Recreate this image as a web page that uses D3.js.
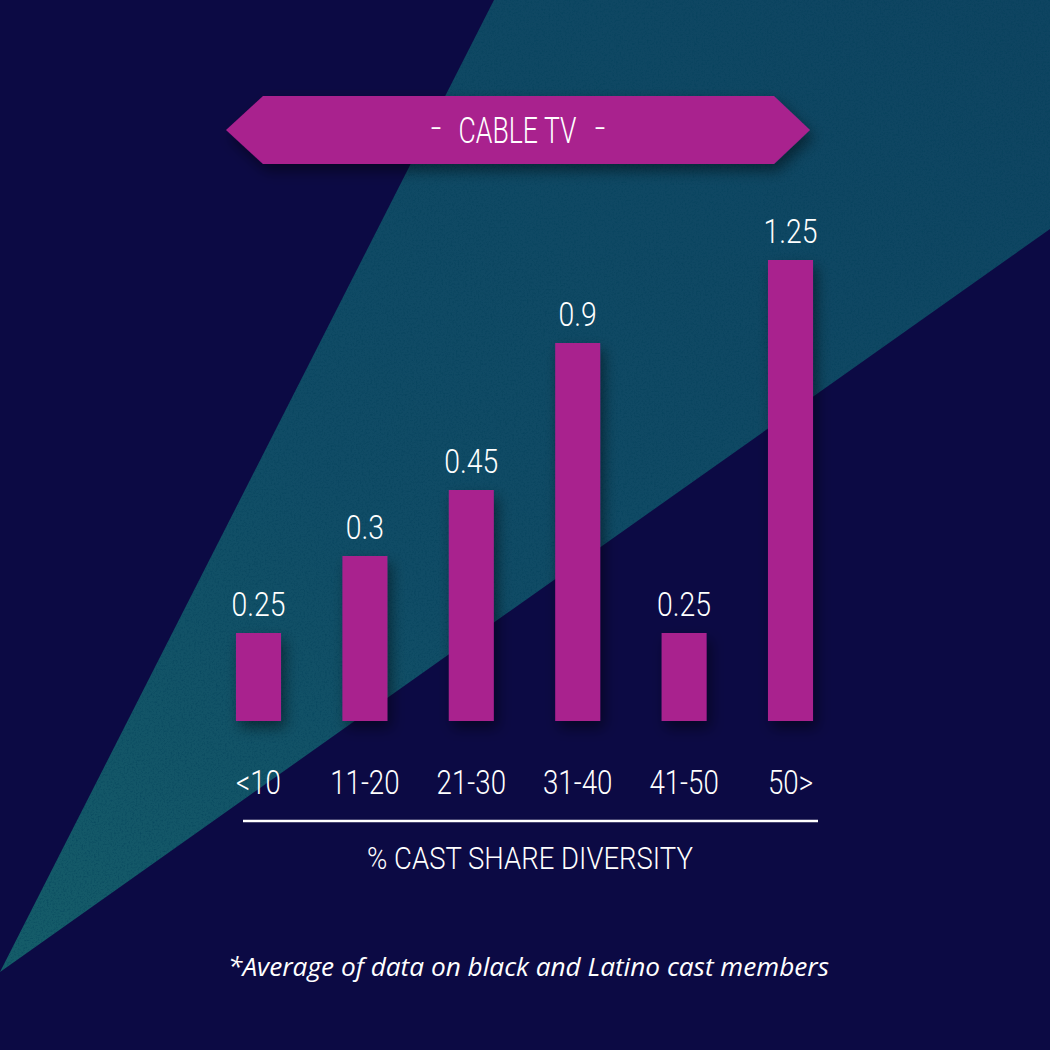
<!DOCTYPE html>
<html>
<head>
<meta charset="utf-8">
<script src="https://cdn.jsdelivr.net/npm/d3@7"></script>
<style>
  html, body { margin: 0; padding: 0; background: #0c0a44; }
  svg { display: block; }
</style>
</head>
<body>
<script>
// ---- data ----
const categories = ["<10", "11-20", "21-30", "31-40", "41-50", "50>"];
const values = [0.25, 0.3, 0.45, 0.9, 0.25, 1.25];
const valueLabels = ["0.25", "0.3", "0.45", "0.9", "0.25", "1.25"];
const title = "CABLE TV";
const axisTitle = "% CAST SHARE DIVERSITY";
const footnote = "*Average of data on black and Latino cast members";

// ---- layout ----
const W = 1050, H = 1050;
const svg = d3.select("body").append("svg").attr("width", W).attr("height", H);
const defs = svg.append("defs");

const grad = defs.append("linearGradient").attr("id", "tealGrad")
  .attr("gradientUnits", "userSpaceOnUse")
  .attr("x1", 1050).attr("y1", 0).attr("x2", 0).attr("y2", 972);
grad.append("stop").attr("offset", 0).attr("stop-color", "#0e4461");
grad.append("stop").attr("offset", 0.6).attr("stop-color", "#104c66");
grad.append("stop").attr("offset", 1).attr("stop-color", "#155d69");

const shadow = defs.append("filter").attr("id", "shadow")
  .attr("x", "-30%").attr("y", "-30%").attr("width", "160%").attr("height", "160%");
shadow.append("feDropShadow").attr("dx", 4).attr("dy", 7).attr("stdDeviation", 7)
  .attr("flood-color", "#000").attr("flood-opacity", 0.45);

const noise = defs.append("filter").attr("id", "noise")
  .attr("x", 0).attr("y", 0).attr("width", "100%").attr("height", "100%");
noise.append("feTurbulence").attr("type", "fractalNoise").attr("baseFrequency", 0.55)
  .attr("numOctaves", 3).attr("seed", 4).attr("result", "t");
noise.append("feColorMatrix").attr("in", "t").attr("type", "matrix")
  .attr("values", "0 0 0 0 0  0 0 0 0 0.05  0 0 0 0 0.1  -2.2 0 0 0 1.15");

// background
svg.append("rect").attr("width", W).attr("height", H).attr("fill", "#0c0a44");
const tealPts = [[0, 972], [494, 0], [1050, 0], [1050, 229]];
defs.append("clipPath").attr("id", "tealClip")
  .append("polygon").attr("points", tealPts.map(p => p.join(",")).join(" "));
svg.append("polygon").attr("points", tealPts.map(p => p.join(",")).join(" "))
  .attr("fill", "url(#tealGrad)");
svg.append("rect").attr("width", W).attr("height", H)
  .attr("clip-path", "url(#tealClip)").attr("filter", "url(#noise)").attr("opacity", 0.55);

const MAG = "#a9208e";

// scales
const x = d3.scaleBand().domain(categories)
  .range([205.3, 843.7]).paddingInner(0.577).paddingOuter(0.2885);
// the infographic's bars are not drawn proportionally; piecewise-linear value scale
const yDomain = [0].concat(Array.from(new Set(values)).sort((a, b) => a - b));
const y = d3.scaleLinear().domain(yDomain).range([721, 633, 556, 490, 343, 260]);

// helper to condense text horizontally by a factor
function condense(sel, k) {
  sel.each(function () {
    const t = d3.select(this);
    const tx = +t.attr("data-x"), ty = +t.attr("data-y");
    t.attr("x", 0).attr("y", 0)
      .attr("transform", `translate(${tx},${ty}) scale(${k},1)`);
  });
}
// helper to fit a single text to a target width
function fitTo(sel, tx, ty, w) {
  const nat = sel.node().getComputedTextLength();
  sel.attr("x", 0).attr("y", 0)
    .attr("transform", `translate(${tx},${ty}) scale(${w / nat},1)`);
}

// bars
const gBars = svg.append("g").attr("filter", "url(#shadow)");
gBars.selectAll("rect").data(values).join("rect")
  .attr("x", (d, i) => x(categories[i]))
  .attr("width", x.bandwidth())
  .attr("y", d => y(d))
  .attr("height", d => y(0) - y(d))
  .attr("fill", MAG);

// value labels
svg.append("g").selectAll("text").data(values).join("text")
  .attr("data-x", (d, i) => x(categories[i]) + x.bandwidth() / 2)
  .attr("data-y", d => y(d) - 17)
  .attr("text-anchor", "middle")
  .attr("font-family", "Roboto, 'Liberation Sans Narrow', sans-serif")
  .attr("font-weight", 300)
  .attr("font-size", 33)
  .attr("fill", "#ffffff")
  .text((d, i) => valueLabels[i])
  .call(condense, 0.86);

// category axis
const axisG = svg.append("g").attr("transform", "translate(0,721)")
  .call(d3.axisBottom(x).tickSize(0).tickPadding(0));
axisG.select(".domain").remove();
axisG.selectAll(".tick text")
  .attr("dy", null)
  .attr("font-family", "Roboto, 'Liberation Sans Narrow', sans-serif")
  .attr("font-weight", 300)
  .attr("font-size", 33)
  .attr("fill", "#ffffff")
  .attr("text-anchor", "middle")
  .attr("data-x", 0).attr("data-y", 72.7)
  .call(condense, 0.84);

// axis rule
svg.append("line").attr("x1", 243).attr("x2", 818).attr("y1", 821).attr("y2", 821)
  .attr("stroke", "#ffffff").attr("stroke-width", 2.5);

// axis title
svg.append("text")
  .attr("text-anchor", "middle")
  .attr("font-family", "Roboto, sans-serif").attr("font-weight", 300)
  .attr("font-size", 32).attr("fill", "#ffffff")
  .text(axisTitle)
  .call(fitTo, 530, 869, 326);

// title banner
const bannerPts = [[226, 130], [263, 96], [774, 96], [810, 130], [774, 164], [263, 164]];
svg.append("polygon").attr("points", bannerPts.map(p => p.join(",")).join(" "))
  .attr("fill", MAG).attr("filter", "url(#shadow)");
const tStyle = s => s.attr("font-family", "Roboto, sans-serif").attr("font-weight", 300)
  .attr("font-size", 37).attr("fill", "#ffffff").attr("text-anchor", "middle");
svg.append("text").call(tStyle).text(title).call(fitTo, 517.5, 143, 118);
svg.append("text").attr("x", 436).attr("y", 140).call(tStyle).text("-");
svg.append("text").attr("x", 600).attr("y", 140).call(tStyle).text("-");

// footnote
svg.append("text")
  .attr("text-anchor", "middle")
  .attr("font-family", "'Open Sans', sans-serif").attr("font-style", "italic")
  .attr("font-size", 26).attr("fill", "#ffffff")
  .text(footnote)
  .call(fitTo, 528.5, 976, 601);
</script>
</body>
</html>
